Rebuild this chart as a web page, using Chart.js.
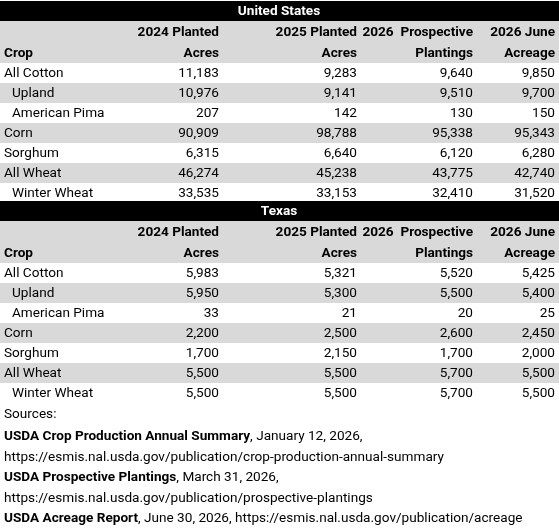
<!DOCTYPE html>
<html>
<head>
<meta charset="utf-8">
<script src="https://cdn.jsdelivr.net/npm/chart.js@4"></script>
<style>
html,body{margin:0;padding:0;background:#fff;}
#wrap{width:559px;height:530px;}
</style>
</head>
<body>
<div id="wrap"><canvas id="myChart"></canvas></div>
<script>
var crops = ["All Cotton", "Upland", "American Pima", "Corn", "Sorghum", "All Wheat", "Winter Wheat"];
var indented = [false, true, true, false, false, false, true];
var headers1 = ["2024 Planted", "2025 Planted", "2026  Prospective", "2026 June"];
var headers2 = ["Acres", "Acres", "Plantings", "Acreage"];

var us2024 = [11183, 10976, 207, 90909, 6315, 46274, 33535];
var us2025 = [9283, 9141, 142, 98788, 6640, 45238, 33153];
var usProspective = [9640, 9510, 130, 95338, 6120, 43775, 32410];
var usJune = [9850, 9700, 150, 95343, 6280, 42740, 31520];

var tx2024 = [5983, 5950, 33, 2200, 1700, 5500, 5500];
var tx2025 = [5321, 5300, 21, 2500, 2150, 5500, 5500];
var txProspective = [5520, 5500, 20, 2600, 1700, 5700, 5700];
var txJune = [5425, 5400, 25, 2450, 2000, 5500, 5500];

var sources = [
    [["USDA Crop Production Annual Summary", true], [", January 12, 2026,", false]],
    [["https://esmis.nal.usda.gov/publication/crop-production-annual-summary", false]],
    [["USDA Prospective Plantings", true], [", March 31, 2026,", false]],
    [["https://esmis.nal.usda.gov/publication/prospective-plantings", false]],
    [["USDA Acreage Report", true], [", June 30, 2026, https://esmis.nal.usda.gov/publication/acreage", false]]
];

// column right edges in x-scale units (0..559)
var colRight = [219, 357, 473, 555];

var FONT = "Roboto, 'Liberation Sans', sans-serif";
var SIZE = '13.6px ';

function fmt(v) { return v.toLocaleString('en-US'); }

var tablePlugin = {
    id: 'tablePlugin',
    afterDraw: function(chart) {
        var ctx = chart.ctx;
        var xs = chart.scales.x, ys = chart.scales.y;
        var X = function(v){ return xs.getPixelForValue(v); };
        var Y = function(v){ return ys.getPixelForValue(v); };
        ctx.save();
        ctx.textBaseline = 'middle';

        function band(y0, y1, color) {
            ctx.fillStyle = color;
            ctx.fillRect(X(0), Y(y0), X(559) - X(0), Y(y1) - Y(y0));
        }

        function section(top, title, cols) {
            band(top, top + 20, '#000');
            ctx.fillStyle = '#fff';
            ctx.font = 'bold ' + SIZE + FONT;
            ctx.textAlign = 'center';
            ctx.fillText(title, X(279), Y(top + 10.5));

            band(top + 20, top + 62, '#d9d9d9');
            ctx.fillStyle = '#000';
            ctx.textAlign = 'left';
            ctx.fillText('Crop', X(4), Y(top + 53));
            ctx.textAlign = 'right';
            for (var c = 0; c < 4; c++) {
                ctx.fillText(headers1[c], X(colRight[c]), Y(top + 32));
                ctx.fillText(headers2[c], X(colRight[c]), Y(top + 53));
            }

            for (var r = 0; r < crops.length; r++) {
                var y0 = top + 62 + r * 20;
                if (r % 2 === 1) band(y0, y0 + 20, '#d9d9d9');
                ctx.fillStyle = '#000';
                ctx.font = SIZE + FONT;
                ctx.textAlign = 'left';
                ctx.fillText(crops[r], X(indented[r] ? 12 : 4), Y(y0 + 10.5));
                ctx.textAlign = 'right';
                for (var k = 0; k < 4; k++) {
                    ctx.fillText(fmt(cols[k][r]), X(colRight[k]), Y(y0 + 10.5));
                }
            }
        }

        section(1, 'United States', [us2024, us2025, usProspective, usJune]);
        section(201, 'Texas', [tx2024, tx2025, txProspective, txJune]);

        ctx.fillStyle = '#000';
        ctx.textAlign = 'left';
        ctx.font = SIZE + FONT;
        ctx.fillText('Sources:', X(4), Y(415));
        for (var i = 0; i < sources.length; i++) {
            var x = X(4);
            var yy = Y(437 + i * 20.5);
            sources[i].forEach(function(part) {
                ctx.font = (part[1] ? 'bold ' : '') + SIZE + FONT;
                ctx.fillText(part[0], x, yy);
                x += ctx.measureText(part[0]).width;
            });
        }
        ctx.restore();
    }
};

var ctx = document.getElementById("myChart").getContext('2d');
var myChart = new Chart(ctx, {
    type: 'scatter',
    data: { datasets: [{ data: [], pointRadius: 0 }] },
    options: {
        responsive: true,
        maintainAspectRatio: false,
        animation: false,
        layout: { padding: 0 },
        plugins: { legend: { display: false }, tooltip: { enabled: false } },
        scales: {
            x: { type: 'linear', min: 0, max: 559, display: false },
            y: { type: 'linear', min: 0, max: 530, reverse: true, display: false }
        }
    },
    plugins: [tablePlugin]
});
</script>
</body>
</html>
